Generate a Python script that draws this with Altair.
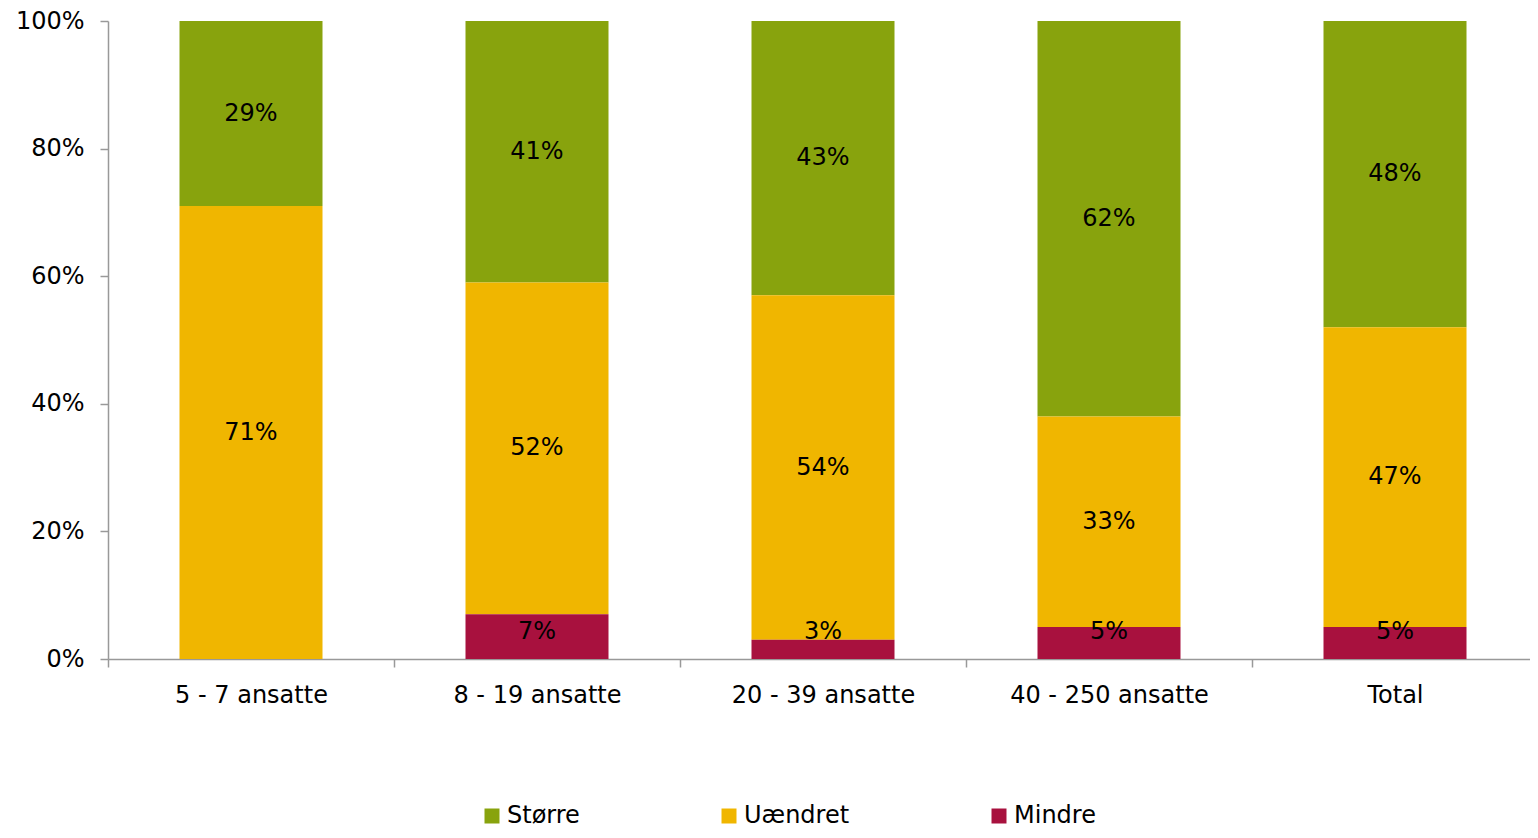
import altair as alt
import pandas as pd

categories = ["5 - 7 ansatte", "8 - 19 ansatte", "20 - 39 ansatte", "40 - 250 ansatte", "Total"]
stoerre = [29, 41, 43, 62, 48]
uaendret = [71, 52, 54, 33, 47]
mindre = [0, 7, 3, 5, 5]

series_names = ["Større", "Uændret", "Mindre"]
series_colors = ["#88A30D", "#F0B600", "#A8113E"]
series_order = {"Mindre": 0, "Uændret": 1, "Større": 2}

rows = []
for i, c in enumerate(categories):
    for name, vals in zip(series_names, [stoerre, uaendret, mindre]):
        rows.append({"cat": c, "series": name, "value": vals[i], "ord": series_order[name]})
df = pd.DataFrame(rows)

FONT = "DejaVu Sans"
FS = 24

base = alt.Chart(df).transform_stack(
    stack="value", groupby=["cat"], sort=[alt.SortField("ord", order="ascending")], as_=["y0", "y1"]
)

xenc = alt.X(
    "cat:N",
    sort=categories,
    title=None,
    scale=alt.Scale(paddingInner=0, paddingOuter=0),
    axis=alt.Axis(
        labelAngle=0, tickBand="extent", tickSize=8, labelPadding=16, labelLimit=0,
        labelFontSize=FS, labelFont=FONT, labelColor="black",
        domainColor="#999999", tickColor="#999999", domainWidth=1.5, tickWidth=1.5,
    ),
)

bars = base.mark_bar(width={"band": 0.5}).encode(
    x=xenc,
    y=alt.Y(
        "y0:Q",
        scale=alt.Scale(domain=[0, 100], nice=False),
        title=None,
        axis=alt.Axis(
            values=[0, 20, 40, 60, 80, 100], labelExpr="datum.value + '%'",
            tickSize=8, labelPadding=16, labelFontSize=FS, labelFont=FONT, labelColor="black",
            domainColor="#999999", tickColor="#999999", domainWidth=1.5, tickWidth=1.5, grid=False,
        ),
    ),
    y2="y1:Q",
    color=alt.Color(
        "series:N",
        scale=alt.Scale(domain=series_names, range=series_colors),
        legend=alt.Legend(
            title=None, orient="none", direction="horizontal", legendX=372, legendY=783,
            symbolType="square", symbolSize=225, symbolStrokeWidth=0, labelFontSize=FS,
            labelFont=FONT, labelColor="black", columnPadding=137, labelOffset=3,
        ),
    ),
)

labels = base.transform_filter("datum.value > 0").transform_calculate(
    mid="max((datum.y0 + datum.y1) / 2, 4.2)",
    txt="datum.value + '%'",
).mark_text(fontSize=FS, font=FONT, color="black", baseline="middle").encode(
    x=alt.X("cat:N", sort=categories),
    y=alt.Y("mid:Q"),
    text="txt:N",
)

chart = alt.layer(bars, labels).properties(
    width=1430, height=638,
    autosize=alt.AutoSizeParams(type="none"),
    padding={"left": 100, "top": 13, "right": -8, "bottom": 171},
).configure_view(stroke=None)

chart.save("out.html", embed_options={"renderer": "svg", "actions": False})
